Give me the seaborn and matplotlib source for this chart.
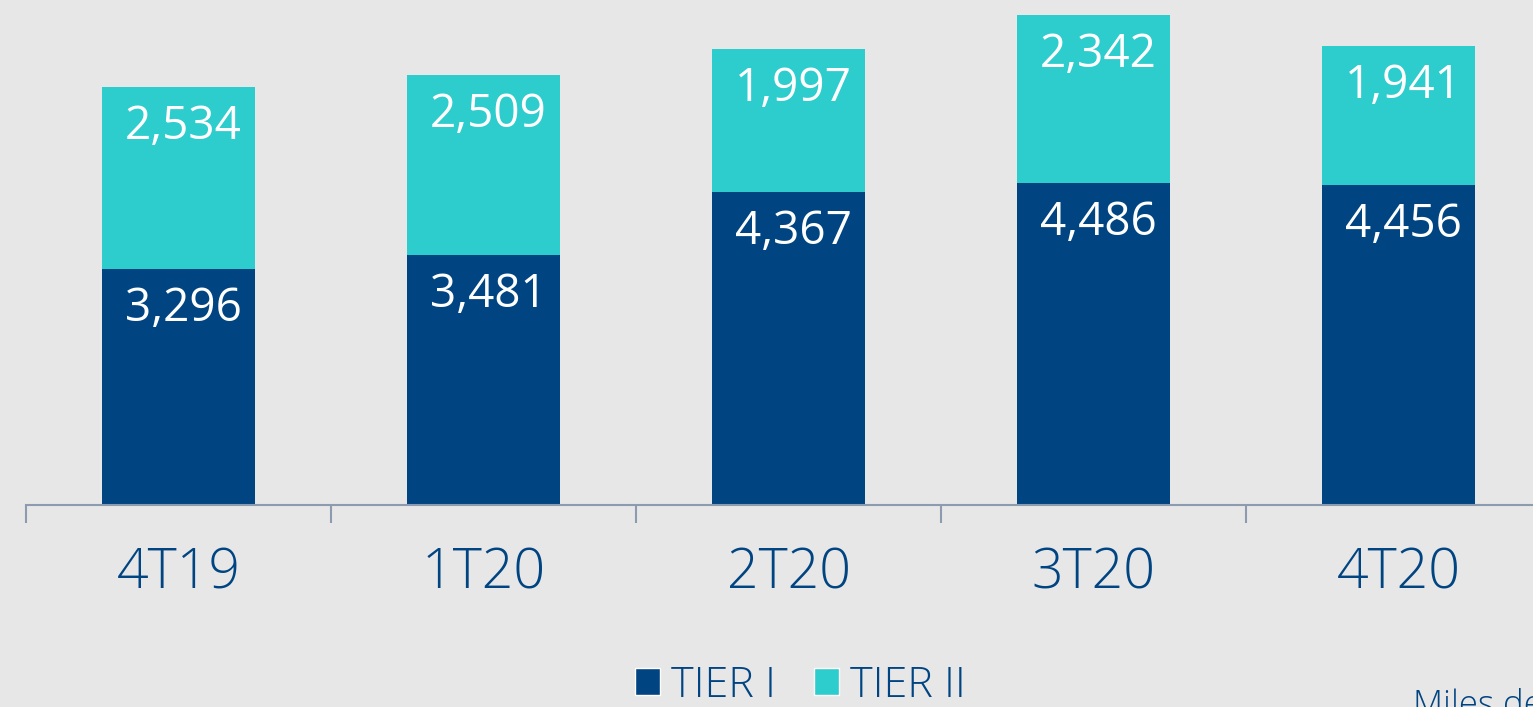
import numpy as np
import pandas as pd
import seaborn as sns
import matplotlib.pyplot as plt
from matplotlib.patches import Patch

quarters = ["4T19", "1T20", "2T20", "3T20", "4T20"]
tier1 = [3296, 3481, 4367, 4486, 4456]
tier2 = [2534, 2509, 1997, 2342, 1941]
series_names = ["TIER I", "TIER II"]

navy = "#004481"
aqua = "#2dcccd"
bg = "#e7e7e7"
axis_col = "#8d9bb0"

df = pd.DataFrame({"q": quarters, "t1": tier1, "t2": tier2})
df["total"] = df["t1"] + df["t2"]

sns.set_theme(style="white")
plt.rcParams["font.family"] = ["Open Sans", "DejaVu Sans"]

fig = plt.figure(figsize=(15.33, 7.07), dpi=100, facecolor=bg)
ax = fig.add_axes([26 / 1533, 202 / 707, 1525 / 1533, 502 / 707])
ax.set_facecolor(bg)

sns.barplot(data=df, x="q", y="total", color=aqua, width=0.5, saturation=1,
            linewidth=0, ax=ax)
sns.barplot(data=df, x="q", y="t1", color=navy, width=0.5, saturation=1,
            linewidth=0, ax=ax)

ax.set_xlim(-0.5, 4.5)
ax.set_ylim(0, 7000)

# value labels near the top of each segment
for i, row in df.iterrows():
    for top, val in [(row["total"], row["t2"]), (row["t1"], row["t1"])]:
        ax.annotate(f"{val:,}", (i, top), xytext=(5, -40), textcoords="offset pixels",
                    ha="center", va="center", color="white", fontsize=33)

for s in ["top", "right", "left"]:
    ax.spines[s].set_visible(False)
ax.spines["bottom"].set_color(axis_col)
ax.spines["bottom"].set_linewidth(1.5)
ax.set_yticks([])
ax.set_xlabel("")
ax.set_ylabel("")
ax.set_xticks(range(len(quarters)))
ax.set_xticklabels(quarters, color=navy, fontsize=40, fontweight="light")
ax.tick_params(axis="x", which="major", length=0, pad=30)
ax.set_xticks(np.arange(-0.5, len(quarters), 1), minor=True)
ax.tick_params(axis="x", which="minor", length=13, width=1.5, color=axis_col, bottom=True)

handles = [Patch(facecolor=navy, label=series_names[0]),
           Patch(facecolor=aqua, label=series_names[1])]
fig.legend(handles=handles, loc="center", bbox_to_anchor=(0.522, 0.03), ncol=2,
           frameon=False, handlelength=0.58, handleheight=0.58,
           handletextpad=0.25, columnspacing=0.9, labelcolor=navy,
           prop={"weight": "light", "size": 31})

# unit note, partly outside the canvas as in the source image
fig.text(1413 / 1533, -0.012, "Miles de millones", color=navy, fontsize=25,
         fontweight="light", ha="left", va="baseline")

fig.savefig("out.png", dpi=100, facecolor=bg)
